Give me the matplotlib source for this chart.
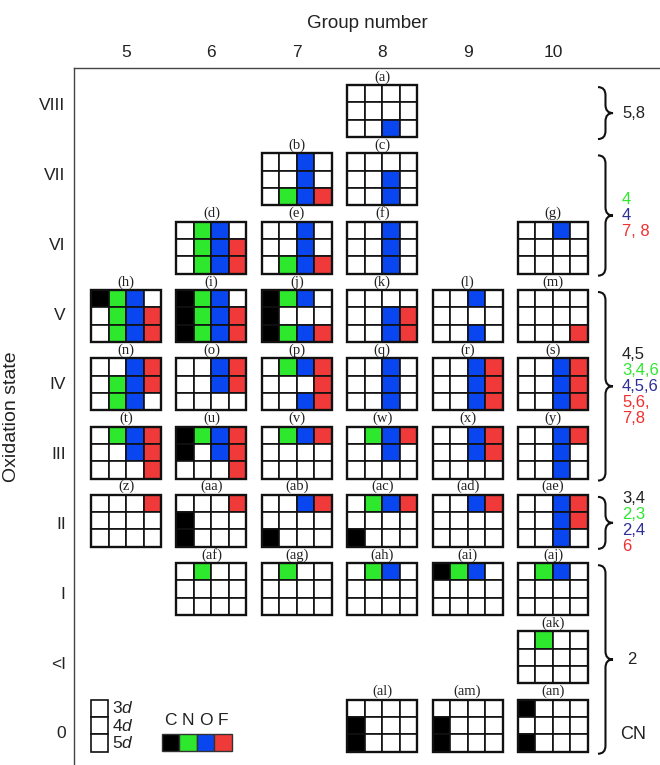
import matplotlib
matplotlib.use('Agg')
import matplotlib.pyplot as plt
from matplotlib.patches import Rectangle, PathPatch
from matplotlib.path import Path

plt.rcParams['font.family'] = ['Liberation Sans', 'DejaVu Sans']
plt.rcParams['mathtext.fontset'] = 'custom'
plt.rcParams['mathtext.rm'] = 'Liberation Sans'
plt.rcParams['mathtext.it'] = 'Liberation Sans:italic'

# ---------------- data ----------------
groups = [5, 6, 7, 8, 9, 10]
ox_states = ['VIII', 'VII', 'VI', 'V', 'IV', 'III', 'II', 'I', '<I', '0']
ligands = ['C', 'N', 'O', 'F']
shells = ['3d', '4d', '5d']
lig_colors = ['#000000', '#2ee82e', '#0a46f0', '#f03a3a']

# each table: label, group, oxidation state, and per shell (3d,4d,5d) flags for C N O F
tab_labels = ['a', 'b', 'c', 'd', 'e', 'f', 'g',
              'h', 'i', 'j', 'k', 'l', 'm',
              'n', 'o', 'p', 'q', 'r', 's',
              't', 'u', 'v', 'w', 'x', 'y',
              'z', 'aa', 'ab', 'ac', 'ad', 'ae',
              'af', 'ag', 'ah', 'ai', 'aj',
              'ak',
              'al', 'am', 'an']
tab_groups = [8, 7, 8, 6, 7, 8, 10,
              5, 6, 7, 8, 9, 10,
              5, 6, 7, 8, 9, 10,
              5, 6, 7, 8, 9, 10,
              5, 6, 7, 8, 9, 10,
              6, 7, 8, 9, 10,
              10,
              8, 9, 10]
tab_ox = ['VIII', 'VII', 'VII', 'VI', 'VI', 'VI', 'VI',
          'V', 'V', 'V', 'V', 'V', 'V',
          'IV', 'IV', 'IV', 'IV', 'IV', 'IV',
          'III', 'III', 'III', 'III', 'III', 'III',
          'II', 'II', 'II', 'II', 'II', 'II',
          'I', 'I', 'I', 'I', 'I',
          '<I',
          '0', '0', '0']
tab_cells = [
    ['0000', '0000', '0010'],  # a
    ['0010', '0010', '0111'],  # b
    ['0000', '0010', '0010'],  # c
    ['0110', '0111', '0111'],  # d
    ['0010', '0010', '0111'],  # e
    ['0010', '0010', '0010'],  # f
    ['0010', '0000', '0000'],  # g
    ['1110', '0111', '0111'],  # h
    ['1110', '1111', '1111'],  # i
    ['1110', '1000', '1111'],  # j
    ['0000', '0011', '0011'],  # k
    ['0010', '0000', '0010'],  # l
    ['0000', '0000', '0001'],  # m
    ['0011', '0111', '0110'],  # n
    ['0011', '0011', '0000'],  # o
    ['0111', '0001', '0011'],  # p
    ['0010', '0010', '0010'],  # q
    ['0011', '0011', '0011'],  # r
    ['0011', '0011', '0011'],  # s
    ['0111', '0011', '0001'],  # t
    ['1111', '1011', '0001'],  # u
    ['0111', '0000', '0000'],  # v
    ['0111', '0010', '0000'],  # w
    ['0011', '0011', '0000'],  # x
    ['0011', '0010', '0010'],  # y
    ['0001', '0000', '0000'],  # z
    ['0001', '1000', '1000'],  # aa
    ['0011', '0000', '1000'],  # ab
    ['0111', '0000', '1000'],  # ac
    ['0011', '0000', '0000'],  # ad
    ['0011', '0011', '0010'],  # ae
    ['0100', '0000', '0000'],  # af
    ['0100', '0000', '0000'],  # ag
    ['0110', '0000', '0000'],  # ah
    ['1110', '0000', '0000'],  # ai
    ['0110', '0000', '0000'],  # aj
    ['0100', '0000', '0000'],  # ak
    ['0000', '1000', '1000'],  # al
    ['0000', '1000', '1000'],  # am
    ['1000', '0000', '1000'],  # an
]

# coordination-number brackets on the right
brace_from = ['VIII', 'VII', 'V', 'II', 'I']
brace_to = ['VIII', 'VI', 'III', 'II', '0']
brace_texts = [
    [('5,8', 'k')],
    [('4', 'g'), ('4', 'b'), ('7, 8', 'r')],
    [('4,5', 'k'), ('3,4,6', 'g'), ('4,5,6', 'b'), ('5,6,', 'r'), ('7,8', 'r')],
    [('3,4', 'k'), ('2,3', 'g'), ('2,4', 'b'), ('6', 'r')],
    [('2', 'k')],
]
text_colors = {'k': '#222222', 'g': '#2ee82e', 'b': '#2e2e9a', 'r': '#f03030'}

# ---------------- layout ----------------
W, H = 660, 765
fig = plt.figure(figsize=(W / 100, H / 100), dpi=100)
ax = fig.add_axes([74 / W, 0, (W - 74) / W, (H - 68) / H])
ax.set_xlim(4.391, 11.253)
ax.set_ylim(9.575, -0.63)

cw = 17.5 / 85.4
ch = 17.33 / 68.33
tw, th = 4 * cw, 3 * ch


def row_of(s):
    return ox_states.index(s)


def draw_table(x0, y0, cells, lw_in=1.2, lw_out=1.7):
    for i, rowflags in enumerate(cells):
        for j, f in enumerate(rowflags):
            fc = lig_colors[j] if f == '1' else 'white'
            ax.add_patch(Rectangle((x0 + j * cw, y0 + i * ch), cw, ch,
                                   facecolor=fc, edgecolor='#111111', lw=lw_in, zorder=2))
    ax.add_patch(Rectangle((x0, y0), cw * len(cells[0]), ch * len(cells),
                           facecolor='none', edgecolor='#111111', lw=lw_out, zorder=3))


for lab, g, ox, cells in zip(tab_labels, tab_groups, tab_ox, tab_cells):
    r = row_of(ox)
    x0 = g - tw / 2
    y0 = r - th / 2
    draw_table(x0, y0, cells)
    ax.text(g, y0 - 0.02, '(%s)' % lab, ha='center', va='bottom',
            fontsize=10.5, family=['Liberation Serif'], color='#222222')


# braces
def brace(xl, ytop, ybot, w, ry):
    xm = xl + w * 0.5
    xt = xl + w
    ymid = (ytop + ybot) / 2
    verts = [(xl, ytop), (xm, ytop), (xm, ytop + ry),
             (xm, ymid - ry), (xm, ymid), (xt, ymid),
             (xm, ymid), (xm, ymid + ry),
             (xm, ybot - ry), (xm, ybot), (xl, ybot)]
    codes = [Path.MOVETO, Path.CURVE3, Path.CURVE3,
             Path.LINETO, Path.CURVE3, Path.CURVE3,
             Path.CURVE3, Path.CURVE3,
             Path.LINETO, Path.CURVE3, Path.CURVE3]
    ax.add_patch(PathPatch(Path(verts, codes), facecolor='none',
                           edgecolor='#111111', lw=1.5, zorder=3))


bx = 4.391 + (598 - 74) / 85.4
bw = 15 / 85.4
tx = 4.391 + (622 - 74) / 85.4
line_h = 16 / 68.33
for a, b, lines in zip(brace_from, brace_to, brace_texts):
    yt = row_of(a) - th / 2 + 0.03
    yb = row_of(b) + th / 2 + 0.03
    brace(bx, yt, yb, bw, 0.12)
    ymid = (yt + yb) / 2
    n = len(lines)
    for k, (s, c) in enumerate(lines):
        yy = ymid + (k - (n - 1) / 2) * line_h
        ax.text(tx + (0.06 if n == 1 and s == '2' else 0), yy, s, ha='left', va='center',
                fontsize=12, color=text_colors[c])

ax.text(tx - 0.02, row_of('0') + 0.13, 'CN', ha='left', va='center', fontsize=13, color='#222222')

# shell legend
lx = 4.391 + (91 - 74) / 85.4
ly = row_of('0') - th / 2
for i, s in enumerate(shells):
    ax.add_patch(Rectangle((lx, ly + i * ch), 17 / 85.4, ch, facecolor='white',
                           edgecolor='#111111', lw=1.2, zorder=2))
    ax.text(lx + 21 / 85.4, ly + (i + 0.5) * ch, r'%s$\mathit{d}$' % s[0], ha='left', va='center',
            fontsize=12.5, color='#222222')

# ligand colour legend
cx = 4.391 + (162 - 74) / 85.4
cy = (734 - 111) / 68.33
for j, (lg, col) in enumerate(zip(ligands, lig_colors)):
    ax.add_patch(Rectangle((cx + j * cw, cy), cw, ch, facecolor=col,
                           edgecolor='#333333', lw=1.0, zorder=2))
    ax.text(cx + (j + 0.5) * cw, cy - 0.08, lg, ha='center', va='bottom', fontsize=12.5,
            color='#222222')

# axes decorations
ax.xaxis.tick_top()
ax.xaxis.set_label_position('top')
ax.set_xticks(groups)
ax.set_xticklabels([str(g) for g in groups], fontsize=12.5)
mid = (len(ox_states) - 1) / 2
ax.set_yticks([mid + (i - mid) * 1.022 for i in range(len(ox_states))])
ax.set_yticklabels(ox_states, fontsize=12.5)
ax.tick_params(length=0, pad=6, colors='#222222')
ax.set_xlabel('Group number', fontsize=13.5, labelpad=12, color='#222222')
ax.set_ylabel('Oxidation state', fontsize=14, labelpad=14, color='#222222')
for sp in ['right', 'bottom']:
    ax.spines[sp].set_visible(False)
for sp in ['top', 'left']:
    ax.spines[sp].set_color('#444444')
    ax.spines[sp].set_linewidth(1.0)

fig.savefig('out.png', dpi=100)
